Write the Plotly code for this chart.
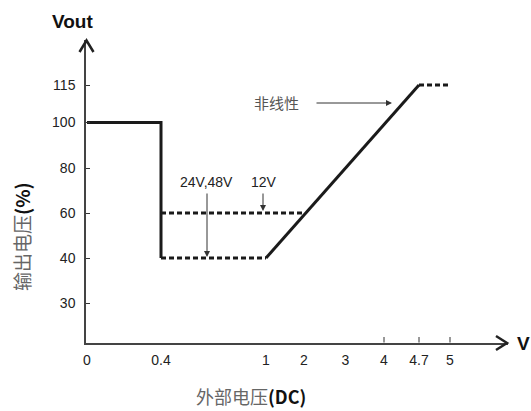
import numpy as np
import plotly.graph_objects as go

# ---- data ----
x_tick_vals = [0, 0.4, 1, 2, 3, 4, 4.7, 5]
x_tick_text = ["0", "0.4", "1", "2", "3", "4", "4.7", "5"]
y_tick_vals = [30, 40, 60, 80, 100, 115]
y_tick_text = ["30", "40", "60", "80", "100", "115"]

# main characteristic (solid)
solid_a_x = [0, 0.4, 0.4]
solid_a_y = [100, 100, 40]
solid_b_x = [1, 4.7]
solid_b_y = [40, 115]
# dashed segments
dash_40_x = [0.4, 1]
dash_40_y = [40, 40]
dash_60_x = [0.4, 2]
dash_60_y = [60, 60]
dash_115_x = [4.7, 5]
dash_115_y = [115, 115]

# ---- non-linear axis layout (screen positions of the ticks) ----
x_pos = [87, 161, 266, 304, 345.5, 384, 419, 450]
y_pos = [303, 258, 213, 168, 122.5, 85]

L, R, T, B = 86, 508, 40, 343   # plot box in page pixels


def fx(v):
    return np.interp(v, x_tick_vals, x_pos)


def fy(v):
    return np.interp(v, y_tick_vals, y_pos)


def px(x):
    return (x - L) / (R - L)


def py(y):
    return (B - y) / (B - T)


LINE = "#1a1a1a"
NARROW = "Liberation Sans Narrow, Arial Narrow, Liberation Sans, Arial, sans-serif"
CJK = "Noto Sans CJK SC, sans-serif"

fig = go.Figure()


def add(xs, ys, dash=None):
    fig.add_trace(go.Scatter(
        x=fx(xs), y=fy(ys), mode="lines",
        line=dict(color=LINE, width=3, dash=dash or "solid"),
        showlegend=False, hoverinfo="skip", cliponaxis=False))


add(dash_40_x, dash_40_y, "5px,3px")
add(dash_60_x, dash_60_y, "5px,3px")
add(dash_115_x, dash_115_y, "5px,3px")
add(solid_a_x, solid_a_y)
add(solid_b_x, solid_b_y)

shapes = []
# axis arrow heads (paper coordinates)
shapes.append(dict(type="path", xref="paper", yref="paper",
                   path=f"M {px(79.5)},{py(52)} L {px(86.5)},{py(40.5)} L {px(93.5)},{py(52)}",
                   line=dict(color="#222", width=2.5)))
shapes.append(dict(type="path", xref="paper", yref="paper",
                   path=f"M {px(496)},{py(336)} L {px(507)},{py(343)} L {px(496)},{py(350)}",
                   line=dict(color="#222", width=2.5)))
# x ticks (only at 4, 4.7, 5)
for v in [4, 4.7, 5]:
    xp = float(fx(v))
    shapes.append(dict(type="line", xref="x", yref="y", x0=xp, x1=xp,
                       y0=342.5, y1=337, line=dict(color="#333", width=1)))


def note(x, y, text, font, angle=0):
    return dict(x=px(x), y=py(y), xref="paper", yref="paper", text=text,
                showarrow=False, textangle=angle, font=font,
                xanchor="center", yanchor="middle")


annotations = [
    note(72, 22, "<b>Vout</b>", dict(family=NARROW, size=19, color="#111")),
    note(523, 343, "<b>V</b>", dict(family=NARROW, size=19, color="#111")),
    note(21, 237, "<span style='color:#666'>输出电压</span><b>(%)</b>",
         dict(family=CJK, size=19, color="#111"), angle=-90),
    note(251, 396, "<span style='color:#666'>外部电压</span><b>(DC)</b>",
         dict(family=CJK, size=18, color="#111")),
    note(206, 182, "24V,48V", dict(family=NARROW, size=14, color="#222")),
    note(264, 182, "12V", dict(family=NARROW, size=14, color="#222")),
    note(276, 102, "非线性", dict(family=CJK, size=15, color="#555")),
]
# arrows
annotations.append(dict(x=207, y=float(fy(40)) - 1, ax=207, ay=192, xref="x", yref="y",
                        axref="x", ayref="y", text="", showarrow=True,
                        arrowhead=2, arrowsize=1.2, arrowwidth=1, arrowcolor="#333"))
annotations.append(dict(x=263, y=float(fy(60)) - 2, ax=263, ay=192, xref="x", yref="y",
                        axref="x", ayref="y", text="", showarrow=True,
                        arrowhead=2, arrowsize=1.2, arrowwidth=1, arrowcolor="#333"))
annotations.append(dict(x=392, y=103, ax=315, ay=103, xref="x", yref="y",
                        axref="x", ayref="y", text="", showarrow=True,
                        arrowhead=2, arrowsize=1.2, arrowwidth=1, arrowcolor="#333"))

fig.update_layout(
    width=531, height=411,
    margin=dict(l=L, r=531 - R, t=T, b=411 - B, autoexpand=False),
    paper_bgcolor="white", plot_bgcolor="white",
    shapes=shapes, annotations=annotations,
    xaxis=dict(range=[L, R], showgrid=False, zeroline=False, automargin=False,
               showline=True, linecolor="#444", linewidth=1.5,
               tickmode="array", tickvals=list(fx(x_tick_vals)), ticktext=x_tick_text,
               ticks="", ticklabelstandoff=3,
               tickfont=dict(family=NARROW, size=14, color="#222")),
    yaxis=dict(range=[B, T], showgrid=False, zeroline=False, automargin=False,
               showline=True, linecolor="#444", linewidth=1.5,
               tickmode="array", tickvals=list(fy(y_tick_vals)), ticktext=y_tick_text,
               ticks="inside", ticklen=4, tickwidth=1, tickcolor="#333",
               ticklabelstandoff=6,
               tickfont=dict(family=NARROW, size=14, color="#222")),
)

fig.write_html("out.html", config={"displayModeBar": False},
               post_script="document.body.style.margin='0';")
